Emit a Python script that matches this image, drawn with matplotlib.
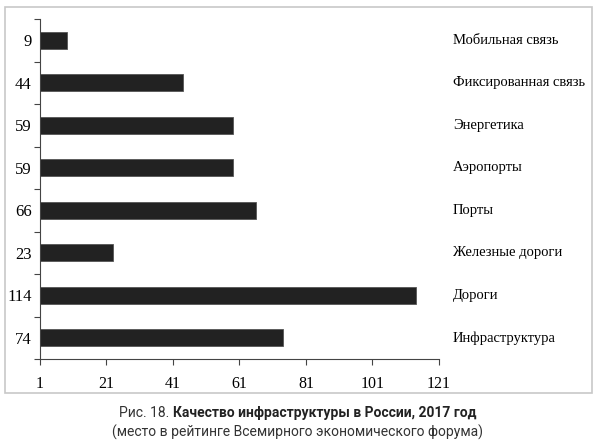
import matplotlib
matplotlib.use('Agg')
import matplotlib.pyplot as plt
from matplotlib.patches import Rectangle
import matplotlib.transforms as mtransforms

# ========== данные ==========
categories = ['Мобильная связь', 'Фиксированная связь', 'Энергетика', 'Аэропорты',
              'Порты', 'Железные дороги', 'Дороги', 'Инфраструктура']
ranks = [9, 44, 59, 59, 66, 23, 114, 74]
x_ticks = [1, 21, 41, 61, 81, 101, 121]

W, H = 595, 444
fig = plt.figure(figsize=(W / 100, H / 100), dpi=100)

# оси: левый край x=40, правый x=439, верх y=19, низ y=359 (пиксели)
ax = fig.add_axes([40 / W, 1 - 359 / H, (439 - 40) / W, (359 - 19) / H])

n = len(categories)
ypos = list(range(n))
ax.barh(ypos, [r - 1 for r in ranks], left=1, height=0.4,
        color='#222222', edgecolor='#555555', linewidth=0.6)

ax.set_xlim(1, 121)
ax.set_ylim(n - 0.5, -0.5)

serif = ['Liberation Serif', 'DejaVu Serif']

ax.set_yticks(ypos)
ax.set_yticklabels([str(r) for r in ranks], fontfamily=serif, fontsize=12)
ax.set_yticks([i - 0.5 for i in range(n + 1)], minor=True)
ax.tick_params(axis='y', which='major', length=0, pad=6)
ax.tick_params(axis='y', which='minor', length=4, direction='out', width=0.8, color='#444444')

ax.set_xticks(x_ticks)
ax.set_xticklabels([str(t) for t in x_ticks], fontfamily=serif, fontsize=11.5)
ax.tick_params(axis='x', length=4, direction='out', width=0.8, color='#444444', pad=8)

for s in ['top', 'right']:
    ax.spines[s].set_visible(False)
for s in ['left', 'bottom']:
    ax.spines[s].set_color('#444444')
    ax.spines[s].set_linewidth(0.8)

# подписи категорий справа
trans = mtransforms.blended_transform_factory(fig.transFigure, ax.transData)
for i, c in enumerate(categories):
    ax.text(453 / W, i, c, transform=trans, ha='left', va='center',
            fontfamily=serif, fontsize=10.5, clip_on=False)

# рамка вокруг диаграммы
fig.patches.append(Rectangle((5 / W, 1 - 393 / H), (592 - 5) / W, (393 - 7) / H,
                             transform=fig.transFigure, fill=False,
                             edgecolor='#c8c8c8', linewidth=1.2))

# подпись рисунка
cond = ['Roboto', 'DejaVu Sans']
part1 = 'Рис. 18. '
part2 = 'Качество инфраструктуры в России, 2017 год'
fig.canvas.draw()
r = fig.canvas.get_renderer()
t1 = fig.text(0, 1 - 413 / H, part1, fontfamily=cond, fontsize=10, va='center', color='#333333')
t2 = fig.text(0, 1 - 413 / H, part2, fontfamily=cond, fontsize=10, va='center',
              fontweight='bold', color='#222222')
w1 = t1.get_window_extent(r).width
w2 = t2.get_window_extent(r).width
x0 = (W - (w1 + w2)) / 2
t1.set_x(x0 / W)
t2.set_x((x0 + w1) / W)
fig.text(297 / W, 1 - 432 / H, '(место в рейтинге Всемирного экономического форума)',
         fontfamily=cond, fontsize=10, ha='center', va='center', color='#333333')

fig.savefig('out.png', dpi=100)
